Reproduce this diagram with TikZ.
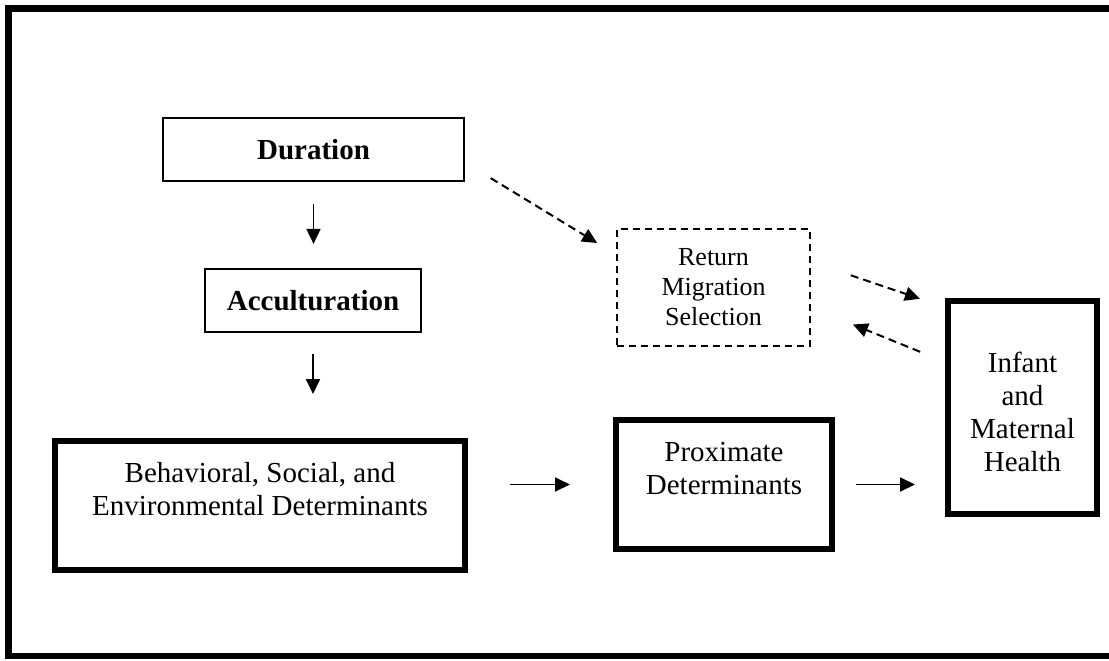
\documentclass[tikz,border=0pt]{standalone}
\usepackage{fontspec}
\setmainfont{Liberation Serif}
\usetikzlibrary{arrows.meta}

\begin{document}
\begin{tikzpicture}[x=0.5pt,y=-0.5pt,>={Triangle[length=7.5pt,width=7pt]},
        thinbox/.style={draw,line width=1.1pt,inner sep=0pt,align=center,font=\fontsize{14.5}{16.5}\selectfont\bfseries},
        thickbox/.style={draw,line width=3pt,inner sep=0pt,align=center,font=\fontsize{14.5}{16.5}\selectfont},
        dashbox/.style={draw,line width=1pt,dash pattern=on 3.5pt off 2.5pt,inner sep=0pt,align=center,font=\fontsize{13}{15}\selectfont},
        arr/.style={->,line width=0.9pt},
        dasharr/.style={->,line width=1pt,dash pattern=on 4pt off 2.5pt}]
        \useasboundingbox (0,0) rectangle (1109,660);
        %外框
        \draw[line width=3.25pt] (1120,8.5)--(8.5,8.5)--(8.5,656)--(1120,656);
        %上方部分
        \node[thinbox,minimum width=150.5pt,minimum height=31.5pt] (dur) at (313.5,149.5) {Duration};
        \node[thinbox,minimum width=108pt,minimum height=31.5pt] (acc) at (313,300.5) {Acculturation};
        \node[dashbox,minimum width=96.5pt,minimum height=58.5pt] (ret) at (713.5,287.5) {Return\\Migration\\Selection};
        %下方部分
        \node[thickbox,minimum width=205pt,minimum height=64.5pt] (beh) at (260,505.5) {Behavioral, Social, and\\Environmental Determinants\\\mbox{}};
        \node[thickbox,minimum width=108pt,minimum height=64.5pt] (prox) at (724,484.5) {Proximate\\Determinants\\\mbox{}};
        \node[thickbox,minimum width=74.5pt,minimum height=106.5pt] (inf) at (1022.5,407.5) {\rule{0pt}{14.8pt}Infant\\and\\Maternal\\Health};
        %箭头
        \draw[arr,shorten <=11pt,shorten >=12pt](dur.south)--(dur.south|-acc.north);
        \draw[arr,shorten <=10.5pt,shorten >=22pt](acc.south)--(acc.south|-beh.north);
        \draw[arr,shorten <=21pt,shorten >=21.5pt](beh.east|-prox.west)--(prox.west);
        \draw[arr,shorten <=10.5pt,shorten >=15pt](prox.east)--(prox.east-|inf.west);
        \draw[dasharr,shorten <=15pt,shorten >=11pt]([yshift=-6.5pt]dur.east)--([yshift=16.5pt]ret.west);
        \draw[dasharr,shorten <=21pt,shorten >=13.2pt]([yshift=12.85pt]ret.east)--([yshift=50.15pt]inf.west);
        \draw[dasharr,shorten <=13.4pt,shorten >=22.6pt]([yshift=22.8pt]inf.west)--([yshift=-10pt]ret.east);
    \end{tikzpicture}
\end{document}
